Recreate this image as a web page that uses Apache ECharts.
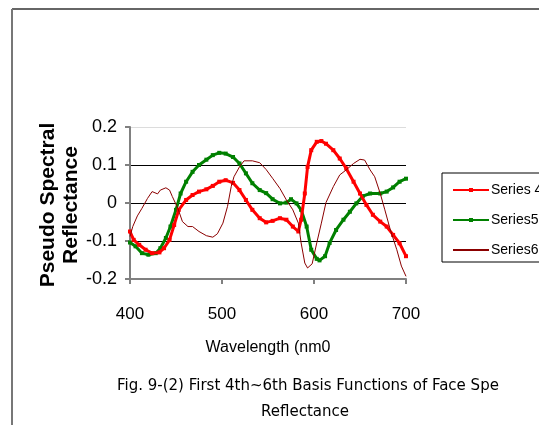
<!DOCTYPE html>
<html><head><meta charset="utf-8">
<script src="https://cdn.jsdelivr.net/npm/echarts@6/dist/echarts.min.js"></script>
<style>html,body{margin:0;padding:0;background:#fff}#c{width:539px;height:425px}</style>
</head><body><div id="c"></div>
<script>
const xTicks = [400, 500, 600, 700];
const yTicks = [-0.2, -0.1, 0, 0.1, 0.2];
const s4x = [400,404,410,417,424,432,437,443,448,453,461,468,475,483,490,497,504,512,519,526,533,541,548,555,563,570,577,583,586,590,593,597,603,608,613,621,628,635,643,650,657,664,672,679,686,693,700];
const s4y = [-0.075,-0.097,-0.11,-0.123,-0.132,-0.13,-0.119,-0.097,-0.058,-0.018,0.008,0.021,0.03,0.036,0.045,0.056,0.06,0.053,0.034,0.008,-0.018,-0.04,-0.051,-0.047,-0.04,-0.044,-0.062,-0.075,-0.044,0.025,0.095,0.139,0.161,0.163,0.156,0.139,0.117,0.091,0.056,0.025,-0.005,-0.031,-0.049,-0.062,-0.084,-0.106,-0.14];
const s5x = [400,406,413,420,428,433,439,444,450,455,461,468,475,483,490,497,504,512,519,526,533,541,548,555,563,570,575,581,586,592,597,603,606,612,617,624,632,639,646,653,661,672,679,686,693,700];
const s5y = [-0.104,-0.114,-0.132,-0.136,-0.132,-0.119,-0.092,-0.062,-0.018,0.025,0.056,0.082,0.1,0.114,0.126,0.132,0.13,0.121,0.104,0.078,0.052,0.034,0.026,0.01,-0.001,0.001,0.01,-0.001,-0.018,-0.062,-0.123,-0.147,-0.151,-0.14,-0.105,-0.071,-0.044,-0.023,-0.001,0.018,0.025,0.025,0.03,0.041,0.056,0.064];
const s6x = [400,403,408,413,419,424,430,433,439,443,446,452,457,463,468,475,483,490,495,501,506,510,513,519,524,533,541,548,555,563,570,577,583,586,590,593,598,603,608,613,621,628,635,643,650,655,661,666,672,677,683,690,695,700];
const s6y = [-0.088,-0.062,-0.034,-0.014,0.012,0.03,0.024,0.034,0.04,0.034,0.017,-0.014,-0.049,-0.062,-0.062,-0.075,-0.086,-0.09,-0.081,-0.053,-0.009,0.043,0.069,0.095,0.111,0.111,0.106,0.088,0.065,0.038,0.008,-0.018,-0.053,-0.105,-0.158,-0.171,-0.16,-0.105,-0.053,0.001,0.043,0.074,0.087,0.104,0.115,0.113,0.087,0.069,0.025,-0.018,-0.071,-0.123,-0.166,-0.193];
const names = ['Series 4', 'Series5', 'Series6'];

const zip = (a, b) => a.map((v, i) => [v, b[i]]);
const chart = echarts.init(document.getElementById('c'));
const font = '"Liberation Sans", Arial, sans-serif';
const capFont = '"DejaVu Sans", "Open Sans", sans-serif';
chart.setOption({
  animation: false,
  backgroundColor: '#fff',
  grid: { left: 130, right: 133, top: 127, bottom: 146, containLabel: false },
  xAxis: {
    type: 'value', min: xTicks[0], max: xTicks[xTicks.length - 1], interval: 100,
    axisLine: { onZero: false, lineStyle: { color: '#808080', width: 2 } },
    axisTick: { show: true, inside: false, length: 5, lineStyle: { color: '#808080', width: 2 } },
    axisLabel: { color: '#000', fontSize: 17, fontFamily: font, margin: 27 },
    splitLine: { show: false },
    name: 'Wavelength (nm0', nameLocation: 'middle', nameGap: 69,
    nameTextStyle: { color: '#000', fontSize: 16, fontFamily: font, verticalAlign: 'middle' }
  },
  yAxis: {
    type: 'value', min: yTicks[0], max: yTicks[yTicks.length - 1], interval: 0.1,
    axisLine: { show: true, onZero: false, lineStyle: { color: '#808080', width: 2 } },
    axisTick: { show: true, length: 5, lineStyle: { color: '#808080', width: 2 } },
    axisLabel: { color: '#000', fontSize: 18, fontFamily: font, margin: 13,
      formatter: v => (Math.round(v * 10) / 10).toString() },
    splitLine: { show: true, lineStyle: { color: ['#808080', '#000', '#000', '#000', '#dcdcdc'], width: 1 } }
  },
  legend: {
    orient: 'vertical', left: 447, top: 178, itemGap: 16, itemWidth: 36, itemHeight: 5,
    textStyle: { fontSize: 14, fontFamily: font, color: '#000', padding: [0, 0, 0, -3] },
    data: [names[0], names[1], { name: names[2], itemStyle: { opacity: 0 } }]
  },
  series: [
    { name: names[0], type: 'line', data: zip(s4x, s4y), symbol: 'rect', symbolSize: 4, showSymbol: true,
      lineStyle: { color: '#ff0000', width: 3 }, itemStyle: { color: '#ff0000' }, z: 3 },
    { name: names[1], type: 'line', data: zip(s5x, s5y), symbol: 'rect', symbolSize: 4, showSymbol: true,
      lineStyle: { color: '#008000', width: 3 }, itemStyle: { color: '#008000' }, z: 2 },
    { name: names[2], type: 'line', data: zip(s6x, s6y), symbol: 'none',
      lineStyle: { color: '#8b0000', width: 1 }, itemStyle: { color: '#8b0000' }, z: 4 }
  ],
  graphic: [
    { type: 'line', shape: { x1: 12, y1: 9, x2: 539, y2: 9 }, style: { stroke: '#333', lineWidth: 1.5 } },
    { type: 'line', shape: { x1: 12, y1: 9, x2: 12, y2: 425 }, style: { stroke: '#777', lineWidth: 2 } },
    { type: 'rect', shape: { x: 442, y: 173, width: 120, height: 89 }, style: { fill: 'none', stroke: '#000', lineWidth: 1 } },
    { type: 'text', x: 60, y: 205, rotation: Math.PI / 2, style: { text: 'Pseudo Spectral\nReflectance', align: 'center', verticalAlign: 'middle',
      font: 'bold 21px ' + font, fill: '#000', lineHeight: 23 } },
    { type: 'text', x: 117, y: 386, style: { text: 'Fig. 9-(2) First 4th~6th Basis Functions of Face Spe', align: 'left', verticalAlign: 'middle',
      font: '15px ' + capFont, fill: '#000' } },
    { type: 'text', x: 305, y: 412, style: { text: 'Reflectance', align: 'center', verticalAlign: 'middle',
      font: '15px ' + capFont, fill: '#000' } }
  ]
});
</script></body></html>
